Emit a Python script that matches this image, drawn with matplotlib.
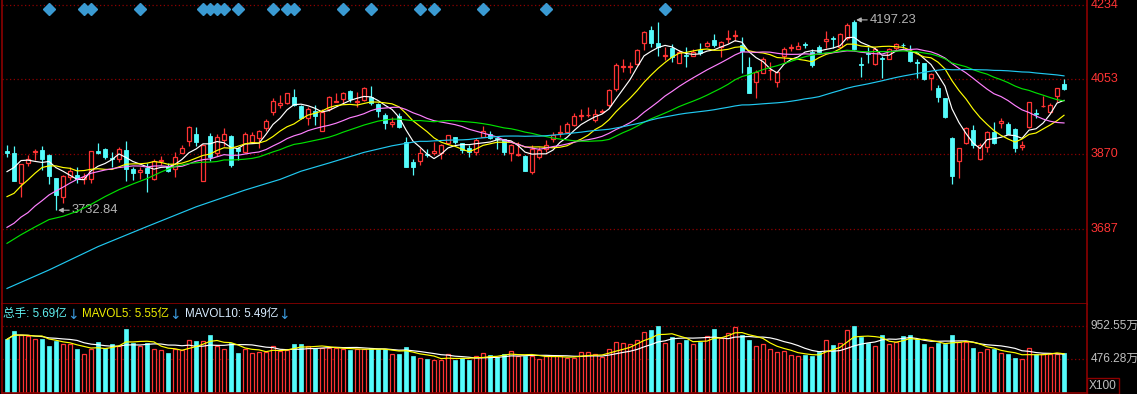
import matplotlib
matplotlib.use("Agg")
import matplotlib.pyplot as plt
import matplotlib.transforms as mtrans
import numpy as np
import pandas as pd

plt.rcParams['font.family'] = ['Liberation Sans', 'Noto Sans CJK SC', 'DejaVu Sans']

# daily candles (open, high, low, close)
opens = [3877, 3872, 3800, 3847, 3875, 3880, 3868, 3812, 3766, 3815,
         3819, 3808, 3809, 3878, 3881, 3860, 3859, 3880, 3833, 3826,
         3835, 3808, 3852, 3841, 3833, 3873, 3902, 3919, 3804, 3914,
         3872, 3904, 3914, 3885, 3876, 3900, 3908, 3933, 3973, 3990,
         3994, 4008, 3987, 3957, 3976, 3927, 3979, 3997, 4005, 4024,
         3997, 4002, 4010, 3992, 3965, 3943, 3963, 3900, 3850, 3853,
         3870, 3872, 3872, 3896, 3911, 3896, 3884, 3876, 3912, 3918,
         3908, 3906, 3873, 3868, 3865, 3827, 3863, 3881, 3906, 3921,
         3924, 3941, 3962, 3964, 3953, 3973, 3990, 4029, 4082, 4083,
         4090, 4140, 4173, 4140, 4110, 4128, 4093, 4112, 4109, 4124,
         4134, 4148, 4130, 4150, 4158, 4136, 4083, 4046, 4068, 4074,
         4046, 4108, 4128, 4127, 4138, 4120, 4132, 4146, 4152, 4132,
         4152, 4193, 4090, 4117, 4089, 4105, 4103, 4128, 4137, 4120,
         4094, 4091, 4056, 4030, 4006, 3908, 3854, 3896, 3929, 3857,
         3888, 3924, 3945, 3943, 3930, 3888, 3935, 3969, 3986, 3973,
         4012, 4041]
highs = [3892, 3890, 3846, 3867, 3881, 3890, 3870, 3812, 3818, 3838,
         3838, 3824, 3877, 3897, 3885, 3875, 3888, 3902, 3839, 3838,
         3847, 3858, 3865, 3847, 3876, 3892, 3938, 3937, 3895, 3922,
         3919, 3933, 3916, 3888, 3924, 3924, 3929, 3955, 4007, 4014,
         4020, 4028, 3990, 3985, 3990, 3981, 4011, 4018, 4021, 4026,
         4022, 4033, 4036, 3994, 3971, 3961, 3969, 3912, 3859, 3884,
         3881, 3900, 3894, 3917, 3912, 3898, 3892, 3908, 3938, 3926,
         3912, 3906, 3894, 3900, 3868, 3892, 3886, 3904, 3924, 3940,
         3949, 3969, 3979, 3985, 3981, 3980, 4028, 4092, 4101, 4095,
         4125, 4170, 4183, 4191, 4132, 4138, 4124, 4130, 4125, 4142,
         4146, 4163, 4145, 4173, 4173, 4156, 4107, 4075, 4107, 4095,
         4072, 4130, 4138, 4144, 4144, 4126, 4136, 4171, 4158, 4166,
         4190, 4197.23, 4107, 4131, 4130, 4109, 4128, 4140, 4142, 4136,
         4101, 4091, 4067, 4038, 4006, 3912, 3884, 3937, 3941, 3896,
         3927, 3949, 3957, 3949, 3933, 3902, 3996, 3981, 4011, 3994,
         4032, 4053]
lows = [3863, 3805, 3766, 3841, 3855, 3831, 3797, 3732.84, 3750, 3807,
        3800, 3797, 3799, 3870, 3859, 3838, 3851, 3805, 3807, 3809,
        3778, 3806, 3843, 3827, 3813, 3872, 3890, 3890, 3804, 3854,
        3865, 3890, 3838, 3855, 3873, 3896, 3884, 3925, 3965, 3982,
        3991, 3987, 3955, 3941, 3941, 3927, 3976, 3996, 3994, 3997,
        3984, 3999, 3990, 3961, 3930, 3935, 3933, 3839, 3819, 3843,
        3862, 3868, 3859, 3894, 3894, 3872, 3863, 3868, 3912, 3906,
        3881, 3868, 3854, 3865, 3829, 3821, 3859, 3876, 3900, 3912,
        3922, 3938, 3953, 3960, 3949, 3970, 3985, 4024, 4071, 4068,
        4088, 4124, 4132, 4108, 4100, 4095, 4093, 4083, 4108, 4112,
        4130, 4132, 4106, 4140, 4145, 4067, 4018, 4006, 4067, 4051,
        4034, 4095, 4121, 4125, 4128, 4083, 4116, 4128, 4128, 4130,
        4148, 4124, 4058, 4091, 4087, 4056, 4101, 4124, 4128, 4095,
        4055, 4050, 4026, 3997, 3957, 3798, 3811, 3894, 3884, 3855,
        3876, 3894, 3933, 3919, 3876, 3880, 3933, 3957, 3984, 3969,
        3998, 4025]
closes = [3872, 3805, 3846, 3859, 3878, 3859, 3817, 3770, 3816, 3829,
          3809, 3813, 3877, 3873, 3862, 3857, 3882, 3833, 3824, 3831,
          3824, 3853, 3855, 3829, 3863, 3884, 3935, 3900, 3892, 3863,
          3912, 3920, 3843, 3878, 3919, 3916, 3926, 3951, 3999, 3994,
          4018, 3990, 3957, 3980, 3963, 3973, 4008, 3999, 4020, 4003,
          4000, 4030, 3994, 3976, 3945, 3949, 3935, 3839, 3839, 3872,
          3867, 3877, 3892, 3916, 3900, 3880, 3876, 3904, 3926, 3910,
          3906, 3876, 3892, 3870, 3829, 3881, 3880, 3892, 3916, 3923,
          3942, 3963, 3965, 3966, 3968, 3975, 4026, 4087, 4084, 4085,
          4124, 4167, 4142, 4130, 4112, 4106, 4120, 4108, 4120, 4117,
          4140, 4136, 4143, 4152, 4161, 4122, 4020, 4071, 4103, 4076,
          4070, 4125, 4130, 4133, 4136, 4087, 4120, 4150, 4150, 4164,
          4185, 4125, 4087, 4115, 4125, 4103, 4125, 4138, 4135, 4098,
          4092, 4052, 4065, 4008, 3960, 3816, 3884, 3933, 3892, 3892,
          3924, 3896, 3950, 3920, 3884, 3891, 3996, 3967, 3988, 3990,
          4030, 4029]

# 总手, in 万 (x100)
volumes = [759, 881, 820, 806, 764, 764, 665, 736, 693, 693,
           622, 551, 622, 717, 632, 698, 665, 905, 712, 669,
           712, 617, 608, 570, 622, 608, 750, 736, 736, 825,
           669, 622, 712, 570, 617, 570, 584, 584, 669, 594,
           608, 693, 693, 669, 632, 641, 641, 632, 622, 608,
           617, 617, 632, 618, 618, 551, 551, 650, 523, 494,
           480, 466, 473, 551, 473, 490, 466, 523, 561, 537,
           509, 551, 594, 527, 527, 527, 480, 523, 523, 523,
           490, 490, 575, 575, 547, 504, 618, 717, 703, 689,
           745, 858, 891, 952.55, 703, 787, 703, 750, 689, 726,
           806, 905, 773, 844, 929, 825, 750, 665, 693, 617,
           584, 594, 537, 523, 537, 523, 575, 750, 679, 702,
           891, 945, 787, 702, 665, 820, 693, 717, 806, 820,
           759, 693, 646, 702, 693, 820, 717, 717, 641, 575,
           622, 622, 560, 545, 500, 480, 630, 552, 548, 550,
           556, 569]

ma5_head_idx = [0, 1, 2, 3]
ma5_head = [3827, 3837, 3854, 3855]
ma10_head_idx = [0, 1, 2, 3, 4, 5, 6, 7, 8]
ma10_head = [3766, 3774, 3792, 3807, 3823, 3837, 3841, 3841, 3837]
ma20_head_idx = list(range(19))
ma20_head = [3691, 3701, 3716, 3727, 3743, 3756, 3770, 3780, 3789, 3799,
             3808, 3815, 3823, 3827, 3831, 3834, 3837, 3839, 3841]
ma30_head_idx = [0, 2, 4, 6, 8, 10, 12, 14, 16, 18, 20, 22, 24, 26, 28]
ma30_head = [3652, 3673, 3692, 3710, 3718, 3730, 3747, 3766, 3783, 3797,
             3810, 3826, 3840, 3847, 3850]
ma60_head_idx = [0, 6, 13, 20, 27, 34, 39, 42, 46, 51, 55, 58]
ma60_head = [3542, 3587, 3644, 3693, 3741, 3782, 3808, 3828, 3848, 3874, 3890, 3899]

signal_idx = [6, 11, 12, 19, 28, 29, 30, 31, 33, 38, 40, 41, 48, 52, 59, 61, 68, 77, 94]

price_ticks = [4234, 4053, 3870, 3687]
vol_ticks = [952.55, 476.28]

RED = '#ff3434'
CYAN = '#54fcfc'
FRAME = '#8c0000'
GRID = '#8c0000'

n = len(closes)
idx = np.arange(n)
o = np.array(opens, float)
h = np.array(highs, float)
l = np.array(lows, float)
c = np.array(closes, float)
v = np.array(volumes, float)
up = c >= o

fig = plt.figure(figsize=(11.37, 3.94), dpi=100, facecolor='black')
W, H = 1137, 394
ax = fig.add_axes([2 / W, (H - 304) / H, 1085 / W, 304 / H], facecolor='black')
axv = fig.add_axes([2 / W, 1 / H, 1085 / W, 89 / H], facecolor='black')

xlim = (-5 / 7, 1080 / 7)
for a in (ax, axv):
    a.set_xlim(*xlim)
    a.set_xticks([])
    a.set_yticks([])
    for s in a.spines.values():
        s.set_color(FRAME)
        s.set_linewidth(1.2)
ax.spines['top'].set_visible(False)
axv.spines['top'].set_visible(False)

ax.set_ylim(3870 - 150 * 2.44, 3870 + 154 * 2.44)
for p in price_ticks:
    ax.axhline(p, color=GRID, lw=0.9, ls=(0, (1, 2)), zorder=0)
trans_r = mtrans.blended_transform_factory(ax.transAxes, ax.transData)
for p in price_ticks:
    ax.text(1.003, p, str(p), transform=trans_r, color=RED, fontsize=9,
            ha='left', va='center', clip_on=False)

# candles
ax.vlines(idx, l, h, colors=np.where(up, RED, CYAN), lw=0.9, zorder=2)
body_lo = np.minimum(o, c)
body_h = np.maximum(np.abs(c - o), 0.6)
ax.bar(idx[up], body_h[up], bottom=body_lo[up], width=0.6,
       facecolor='black', edgecolor=RED, lw=0.9, zorder=3)
ax.bar(idx[~up], body_h[~up], bottom=body_lo[~up], width=0.68,
       facecolor=CYAN, edgecolor=CYAN, lw=0.6, zorder=3)

# moving averages
cs = pd.Series(c)
ma_specs = [(5, ma5_head_idx, ma5_head, 'white'),
            (10, ma10_head_idx, ma10_head, '#ffff00'),
            (20, ma20_head_idx, ma20_head, '#ff80ff'),
            (30, ma30_head_idx, ma30_head, '#00e000'),
            (60, ma60_head_idx, ma60_head, '#20c8f0')]
for win, hi, hv, col in ma_specs:
    m = cs.rolling(win).mean().to_numpy()
    xs = list(hi) + list(idx[win - 1:])
    ys = list(hv) + list(m[win - 1:])
    ax.plot(xs, ys, color=col, lw=0.85, zorder=4)

# signal diamonds along the top
trans_top = mtrans.blended_transform_factory(ax.transData, ax.transAxes)
ax.plot(signal_idx, [1 - 9.3 / 304] * len(signal_idx), 'D', color='#3a9ad2',
        ms=6, mec='#3a9ad2', transform=trans_top, clip_on=False, zorder=5)

# high / low marks
for k, val in [(121, highs[121]), (7, lows[7])]:
    ax.annotate('%.2f' % val, xy=(k + 0.3, val), xytext=(10, 0), textcoords='offset points',
                color='#b4b4b4', fontsize=9.3, va='center', ha='left',
                arrowprops=dict(arrowstyle='-|>,head_length=0.3,head_width=0.15',
                                color='#b4b4b4', lw=0.8, shrinkA=0, shrinkB=0))

# volume panel
vmax = vol_ticks[0] * 89 / 67.3
axv.set_ylim(0, vmax)
for t in vol_ticks:
    axv.axhline(t, color=GRID, lw=0.9, ls=(0, (1, 2)), zorder=0)
axv.bar(idx[up], v[up], width=0.66, facecolor='black', edgecolor=RED, lw=0.9, zorder=2)
axv.bar(idx[~up], v[~up], width=0.68, facecolor=CYAN, edgecolor=CYAN, lw=0.5, zorder=2)
vs = pd.Series(v)
axv.plot(idx, vs.rolling(10, min_periods=1).mean(), color='white', lw=0.85, zorder=3)
axv.plot(idx, vs.rolling(5, min_periods=1).mean(), color='#ffff00', lw=0.85, zorder=4)

trans_v = mtrans.blended_transform_factory(axv.transAxes, axv.transData)
for t, lab in zip(vol_ticks, ['952.55万', '476.28万']):
    axv.text(1.003, t, lab, transform=trans_v, color='#c0c0c0', fontsize=8.6,
             ha='left', va='center', clip_on=False)
fig.text(1089 / W, 1 - 386 / H, 'X100', color='#c0c0c0', fontsize=8.6, ha='left', va='center',
         bbox=dict(boxstyle='square,pad=0.15', facecolor='black', edgecolor=FRAME, lw=1.0))

# volume legend, pieces laid out one after another
ly = 1 - 314.5 / H
fs = 8.4
renderer = fig.canvas.get_renderer()
parts = [('总手: %.2f亿' % (volumes[-1] / 100), '#60f0f0', 0),
         ('↓', '#3c9ce0', 4),
         ('MAVOL5: 5.55亿', '#f0f000', 0),
         ('↓', '#3c9ce0', 4),
         ('MAVOL10: 5.49亿', '#d8ecff', 0),
         ('↓', '#3c9ce0', 0)]
xpix = 3
for s, col, gap in parts:
    if s == '↓':
        t = fig.text(xpix / W, ly, s, color=col, fontsize=fs + 1.5, va='center',
                     family=['DejaVu Sans'])
    else:
        t = fig.text(xpix / W, ly, s, color=col, fontsize=fs, va='center')
    bb = t.get_window_extent(renderer)
    xpix = bb.x1 + gap

fig.savefig('out.png', dpi=100, facecolor='black')
